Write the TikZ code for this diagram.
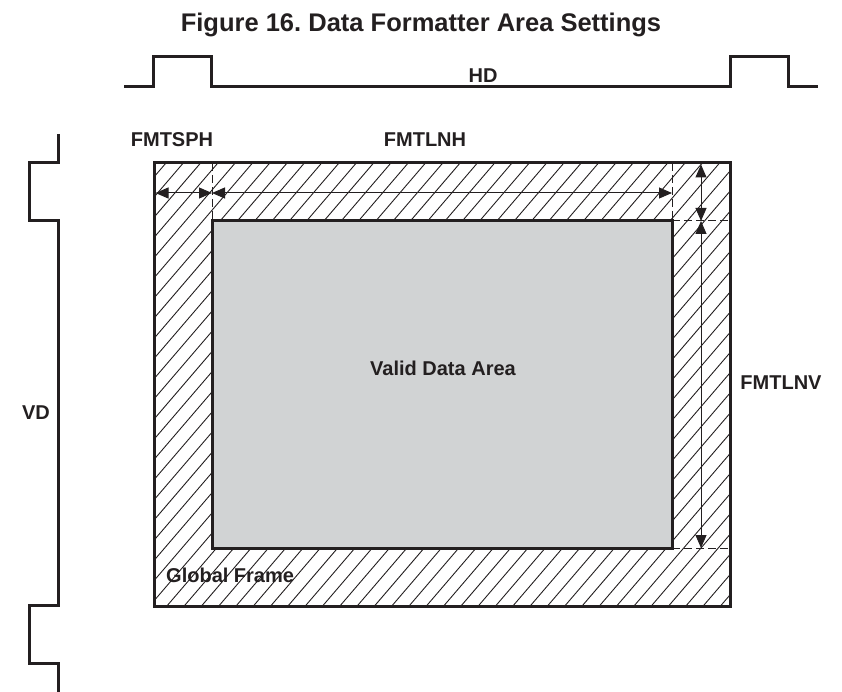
\documentclass[tikz,border=0pt]{standalone}
\usepackage{fontspec}
\setmainfont{Liberation Sans}
\usetikzlibrary{arrows.meta}
\definecolor{ink}{RGB}{35,31,32}
\definecolor{validgray}{RGB}{209,211,212}
\frenchspacing
\begin{document}
\begin{tikzpicture}[x=1pt,y=-1pt,
  heavy/.style={line width=3pt, draw=ink, line join=miter},
  hatchline/.style={line width=0.9pt, draw=ink},
  dimline/.style={line width=1pt, draw=ink, {Triangle[length=13pt,width=11pt]}-{Triangle[length=13pt,width=11pt]}},
  guide/.style={line width=1pt, draw=ink, dash pattern=on 8pt off 4pt},
  lbl/.style={font=\bfseries\fontsize{20}{24}\selectfont, text=ink, inner sep=0pt},
  ttl/.style={font=\bfseries\fontsize{25.5}{30}\selectfont, text=ink, inner sep=0pt}]
\useasboundingbox (0,0) rectangle (842,692);
% geometry
\coordinate (F1) at (154,163); \coordinate (F2) at (730,606);
\coordinate (V1) at (212,221); \coordinate (V2) at (672,548);
% hatching
\begin{scope}
  \clip (F1) rectangle (F2);
  \foreach \c in {150,167.3,...,1420} {
    \draw[hatchline] (\c,0) -- ++(-600,700);
  }
\end{scope}
% valid data area
\fill[validgray] (V1) rectangle (V2);
\draw[heavy] (V1) rectangle (V2);
\draw[heavy] (F1) rectangle (F2);
% guides
\coordinate (gA1) at (212,163); \coordinate (gA2) at (212,221);
\coordinate (gB1) at (672,163); \coordinate (gB2) at (672,221);
\coordinate (gC1) at (672,221); \coordinate (gC2) at (730,221);
\coordinate (gD1) at (672,548); \coordinate (gD2) at (730,548);
\draw[guide] (gA1) -- (gA2);
\draw[guide] (gB1) -- (gB2);
\draw[guide] (gC1) -- (gC2);
\draw[guide] (gD1) -- (gD2);
% dimension arrows
\coordinate (h0) at (155.5,193); \coordinate (h1) at (212,193); \coordinate (h2) at (672,193);
\coordinate (v0) at (701,164.5); \coordinate (v1) at (701,221); \coordinate (v2) at (701,548);
\draw[dimline] (h0) -- (h1);
\draw[dimline] (h1) -- (h2);
\draw[dimline] (v0) -- (v1);
\draw[dimline] (v1) -- (v2);
% HD waveform
\coordinate (hd0) at (124,87);
\draw[heavy] (hd0) -- (153,87) -- (153,57) -- (211,57) -- (211,87) -- (730,87) -- (730,57) -- (788,57) -- (788,87) -- (818,87);
% VD waveform
\coordinate (vd0) at (58,134);
\draw[heavy] (vd0) -- (58,163) -- (29,163) -- (29,221) -- (58,221) -- (58,605) -- (29,605) -- (29,663) -- (58,663) -- (58,692);
% texts
\node[ttl, anchor=base] (title) at (421,32) {Figure 16. Data Formatter Area Settings};
\node[lbl] (hd) at (483,76) {HD};
\node[lbl] (fmtsph) at (172,140) {FMTSPH};
\node[lbl] (fmtlnh) at (425,140) {FMTLNH};
\node[lbl] (fmtlnv) at (781,383) {FMTLNV};
\node[lbl] (vd) at (36,413) {VD};
\node[lbl] (valid) at (443,368) {Valid Data Area};
\node[lbl, anchor=west] (global) at (166,575) {Global Frame};
\end{tikzpicture}
\end{document}
